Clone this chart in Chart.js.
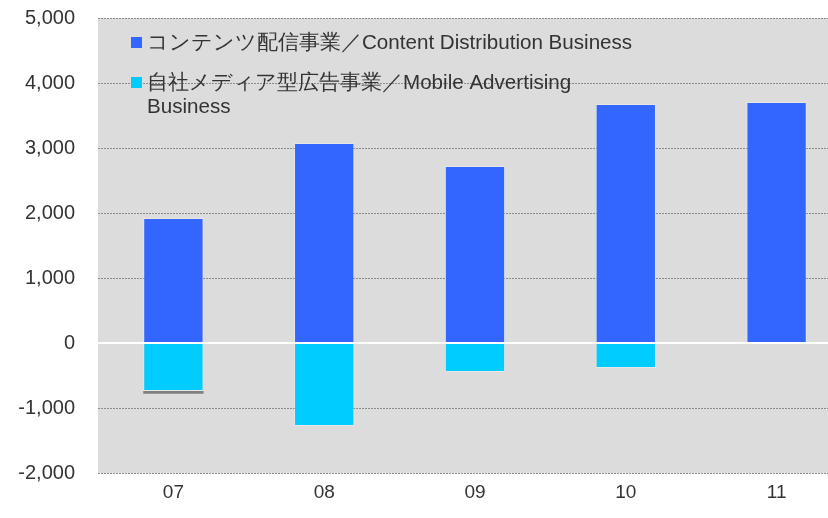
<!DOCTYPE html>
<html>
<head>
<meta charset="utf-8">
<script src="https://cdn.jsdelivr.net/npm/chart.js@4.4.1/dist/chart.umd.min.js"></script>
<style>
  html, body { margin: 0; padding: 0; background: #ffffff; }
  #wrap { width: 828px; height: 518px; position: relative; overflow: hidden; }
  /* the plot runs a little past the right and top edges in the original */
  #chart { position: absolute; left: 0; top: -17px; }
</style>
</head>
<body>
<div id="wrap"><canvas id="chart" width="852" height="536"></canvas></div>
<script>
// fiscal years
const years = ['07', '08', '09', '10', '11'];

// segment values
const contentDist = [1923, 3077, 2723, 3677, 3708];
const mobileAds = [-738, -1277, -446, -385, 0];
const otherSeg = [-42, 0, 0, 0, 0];

const legendLabels = [
  ['コンテンツ配信事業／Content Distribution Business'],
  ['自社メディア型広告事業／Mobile Advertising', 'Business']
];

const yTicks = [5000, 4000, 3000, 2000, 1000, 0, -1000, -2000];

const FONT = '"Liberation Sans", Arial, sans-serif';

// gray plot background
const plotBg = {
  id: 'plotBg',
  beforeDraw(chart) {
    const { ctx, chartArea: a } = chart;
    ctx.save();
    ctx.fillStyle = '#dcdcdc';
    ctx.fillRect(a.left, a.top, a.right - a.left, a.bottom - a.top);
    ctx.restore();
  }
};

// solid white zero line, drawn over the bars
const zeroLine = {
  id: 'zeroLine',
  afterDatasetsDraw(chart) {
    const { ctx, chartArea: a, scales } = chart;
    const y = Math.round(scales.y.getPixelForValue(0));
    ctx.save();
    ctx.strokeStyle = '#ffffff';
    ctx.lineWidth = 2;
    ctx.beginPath();
    ctx.moveTo(a.left, y);
    ctx.lineTo(a.right, y);
    ctx.stroke();
    ctx.restore();
  }
};

// legend drawn inside the plot, over the grid lines
const innerLegend = {
  id: 'innerLegend',
  afterDraw(chart) {
    const ctx = chart.ctx;
    const a = chart.chartArea;
    const colors = ['#3366ff', '#00ccff'];
    const rows = [a.top + 25, a.top + 65];
    ctx.save();
    ctx.font = '20.6px ' + FONT;
    ctx.textBaseline = 'middle';
    legendLabels.forEach((lines, i) => {
      ctx.fillStyle = colors[i];
      ctx.fillRect(131, rows[i] - 6, 11, 11);
      ctx.fillStyle = '#333333';
      lines.forEach((t, j) => ctx.fillText(t, 147, rows[i] + j * 24));
    });
    ctx.restore();
  }
};

new Chart(document.getElementById('chart'), {
  type: 'bar',
  data: {
    labels: years,
    datasets: [
      {
        label: legendLabels[0][0],
        data: contentDist,
        backgroundColor: '#3366ff',
        borderColor: 'rgba(255,255,255,0.3)',
        borderWidth: 1,
        categoryPercentage: 1,
        barPercentage: 0.40
      },
      {
        label: legendLabels[1].join(' '),
        data: mobileAds,
        backgroundColor: '#00ccff',
        borderColor: 'rgba(255,255,255,0.3)',
        borderWidth: 1,
        categoryPercentage: 1,
        barPercentage: 0.40
      },
      {
        label: 'other',
        data: otherSeg,
        backgroundColor: '#808080',
        categoryPercentage: 1,
        barPercentage: 0.40
      }
    ]
  },
  options: {
    responsive: false,
    animation: false,
    layout: { padding: 0 },
    plugins: {
      legend: { display: false },
      tooltip: { enabled: false }
    },
    scales: {
      x: {
        stacked: true,
        grid: { display: false },
        border: { display: false },
        ticks: {
          color: '#333333',
          font: { family: FONT, size: 19 },
          padding: 0
        },
        afterFit(scale) { scale.height = 46; }
      },
      y: {
        stacked: true,
        min: -2000,
        max: 5000,
        afterBuildTicks(scale) {
          scale.ticks = yTicks.map(v => ({ value: v }));
        },
        border: { display: false, dash: [2, 1] },
        grid: {
          drawTicks: false,
          color: ctx => ctx.tick && ctx.tick.value === 0 ? 'rgba(0,0,0,0)' : '#8c8c8c',
          lineWidth: 1
        },
        ticks: {
          color: '#333333',
          font: { family: FONT, size: 20 },
          padding: 23,
          callback: v => v.toLocaleString('en-US')
        },
        afterFit(scale) { scale.width = 98; }
      }
    }
  },
  plugins: [plotBg, zeroLine, innerLegend]
});
</script>
</body>
</html>
